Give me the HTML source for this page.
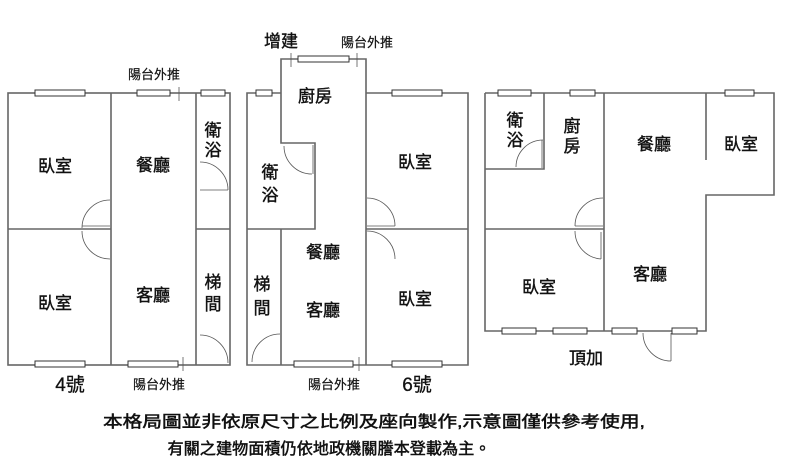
<!DOCTYPE html>
<html><head><meta charset="utf-8"><style>
html,body{margin:0;padding:0;background:#fff;width:800px;height:467px;overflow:hidden}
text{font-family:"Liberation Sans","Noto Sans CJK TC",sans-serif;fill:#111}
</style></head><body>
<svg width="800" height="467" viewBox="0 0 800 467" xmlns="http://www.w3.org/2000/svg">
<g stroke="#666" stroke-width="1.6" fill="none">
<rect x="8" y="93" width="222" height="272"/>
<line x1="111" y1="93" x2="111" y2="365"/>
<line x1="196" y1="93" x2="196" y2="365"/>
<line x1="8" y1="229" x2="111" y2="229"/>
<line x1="196" y1="229" x2="230" y2="229"/>
<polyline points="281,93 247,93 247,365 468,365 468,93 366,93"/>
<polyline points="366,93 366,59 281,59 281,143 315,143 315,229 247,229"/>
<line x1="366" y1="93" x2="366" y2="365"/>
<line x1="281" y1="229" x2="281" y2="365"/>
<line x1="366" y1="229" x2="468" y2="229"/>
<polyline points="485,93 774,93 774,195 706,195 706,331 485,331 485,93"/>
<line x1="604" y1="93" x2="604" y2="331"/>
<line x1="706" y1="93" x2="706" y2="160"/>
<polyline points="485,169 544,169 544,93"/>
<line x1="485" y1="229" x2="604" y2="229"/>
</g>
<g stroke="#333" stroke-width="1" fill="#fff">
<rect x="35" y="90" width="50" height="6"/><rect x="137" y="90" width="33" height="6"/><rect x="201" y="90" width="24" height="6"/>
<rect x="35" y="361" width="50" height="6"/><rect x="128" y="361" width="50" height="6"/>
<rect x="298" y="56" width="51" height="6"/><rect x="256" y="90" width="16" height="6"/><rect x="392" y="90" width="50" height="6"/>
<rect x="294" y="361" width="59" height="6"/><rect x="392" y="361" width="50" height="6"/>
<rect x="498" y="90" width="33" height="6"/><rect x="570" y="90" width="25" height="6"/><rect x="725" y="90" width="29" height="6"/>
<rect x="502" y="328" width="34" height="6"/><rect x="553" y="328" width="34" height="6"/><rect x="612" y="328" width="25" height="6"/><rect x="672" y="328" width="25" height="6"/>
</g>
<g stroke="#555" stroke-width="0.8" fill="none">
<line x1="179" y1="87" x2="179" y2="101"/><line x1="183" y1="357" x2="183" y2="371"/>
<line x1="291" y1="53" x2="291" y2="67"/><line x1="357" y1="53" x2="357" y2="67"/><line x1="359" y1="357" x2="359" y2="371"/>
<path d="M110,200 A28,28 0 0 0 82,228"/><line x1="82" y1="226" x2="110" y2="226"/>
<path d="M82,231 A28,28 0 0 0 110,259"/>
<path d="M200,162 A28,28 0 0 1 228,190"/><line x1="200" y1="190" x2="228" y2="190"/>
<path d="M200,335 A28,28 0 0 1 228,363"/>
<path d="M284,146 A28,28 0 0 0 312,174"/><line x1="313" y1="145" x2="313" y2="174"/>
<path d="M367,198 A28,28 0 0 1 395,226"/><line x1="367" y1="226" x2="395" y2="226"/>
<path d="M367,231 A28,28 0 0 1 395,259"/>
<path d="M280,334 A28,28 0 0 0 252,362"/>
<path d="M543,140 A27,27 0 0 0 516,167"/><line x1="542" y1="140" x2="542" y2="168"/>
<path d="M603,198 A28,28 0 0 0 575,226"/><line x1="575" y1="226" x2="603" y2="226"/>
<path d="M575,231 A28,28 0 0 0 601,259"/><line x1="601" y1="232" x2="601" y2="259"/>
<path d="M643,333 A28,28 0 0 0 671,361"/><line x1="671" y1="333" x2="671" y2="361"/>
</g>
<g font-size="17" text-anchor="middle" stroke="#111" stroke-width="0.4">
<text x="55" y="172">臥室</text><text x="55" y="309">臥室</text>
<text x="153" y="171">餐廳</text><text x="153" y="301">客廳</text>
<text x="213" y="136">衛</text><text x="213" y="156">浴</text>
<text x="213" y="288">梯</text><text x="213" y="310">間</text>
<text x="315" y="102">廚房</text>
<text x="270" y="178">衛</text><text x="270" y="201">浴</text>
<text x="262" y="290">梯</text><text x="262" y="314">間</text>
<text x="323" y="258">餐廳</text><text x="323" y="316">客廳</text>
<text x="415" y="168">臥室</text><text x="415" y="305">臥室</text>
<text x="515" y="126">衛</text><text x="515" y="146">浴</text>
<text x="572" y="132">廚</text><text x="572" y="152">房</text>
<text x="654" y="150">餐廳</text><text x="741" y="150">臥室</text>
<text x="539" y="293">臥室</text><text x="650" y="280">客廳</text>
<text x="586" y="364">頂加</text>
<text x="281" y="47">增建</text>
</g>
<g font-size="19" text-anchor="middle" stroke="#111" stroke-width="0.3">
<text x="70" y="391">4號</text><text x="417" y="391">6號</text>
</g>
<g font-size="13" text-anchor="middle" stroke="#111" stroke-width="0.2">
<text x="154" y="79">陽台外推</text><text x="159" y="389">陽台外推</text>
<text x="367" y="47">陽台外推</text><text x="334" y="389">陽台外推</text>
</g>
<g font-size="16" text-anchor="middle" stroke="#111" stroke-width="0.5">
<text x="374" y="427" textLength="542" lengthAdjust="spacingAndGlyphs">本格局圖並非依原尺寸之比例及座向製作,示意圖僅供參考使用,</text>
<text x="329" y="454" textLength="323" lengthAdjust="spacingAndGlyphs">有關之建物面積仍依地政機關謄本登載為主。</text>
</g>
</svg>
</body></html>
